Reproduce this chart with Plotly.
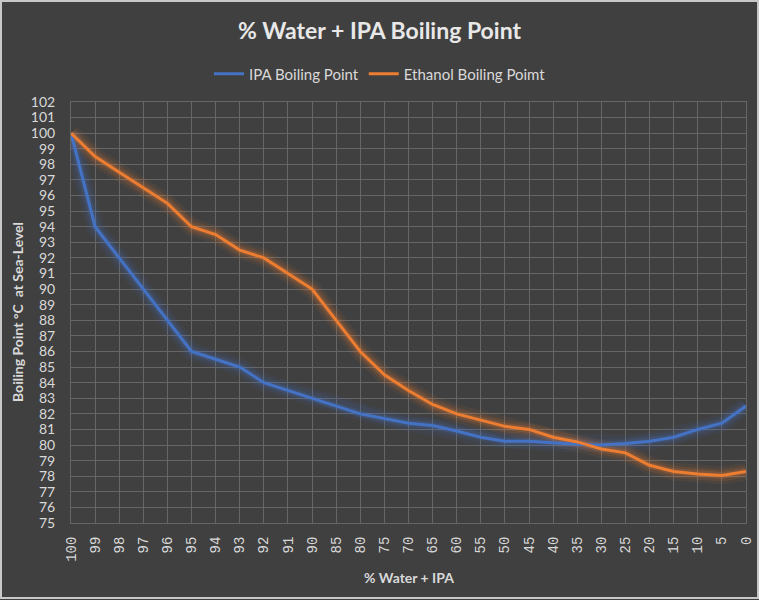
import plotly.graph_objects as go

categories = ["100", "99", "98", "97", "96", "95", "94", "93", "92", "91", "90",
              "85", "80", "75", "70", "65", "60", "55", "50", "45", "40", "35",
              "30", "25", "20", "15", "10", "5", "0"]
ipa_bp = [100, 94, 92, 90, 88, 86, 85.5, 85, 84, 83.5, 83,
          82.5, 82, 81.7, 81.4, 81.25, 80.9, 80.5, 80.25, 80.25, 80.15, 80.05,
          80.0, 80.1, 80.25, 80.5, 81.0, 81.4, 82.5]
ethanol_bp = [100, 98.5, 97.5, 96.5, 95.5, 94, 93.5, 92.5, 92, 91, 90,
              88, 86, 84.5, 83.5, 82.6, 82.0, 81.6, 81.2, 81.0, 80.5, 80.2,
              79.75, 79.5, 78.7, 78.3, 78.15, 78.05, 78.3]
y_ticks = list(range(75, 103))

BG = "#404040"
GRID = "#666666"
TXT = "#d9d9d9"
FONT = "Lato"

series = [
    ("IPA Boiling Point", ipa_bp, (68, 114, 196)),
    ("Ethanol Boiling Poimt", ethanol_bp, (237, 125, 49)),
]

fig = go.Figure()
# glow layers
for name, vals, (r, g, b) in series:
    for w, a in [(18, 0.07), (12, 0.12), (7, 0.2)]:
        fig.add_trace(go.Scatter(
            x=categories, y=vals, mode="lines",
            line=dict(color=f"rgba({r},{g},{b},{a})", width=w),
            showlegend=False, hoverinfo="skip"))
for name, vals, (r, g, b) in series:
    fig.add_trace(go.Scatter(
        x=categories, y=vals, mode="lines", name=name,
        line=dict(color=f"rgb({r},{g},{b})", width=3)))

fig.update_layout(
    width=759, height=600,
    paper_bgcolor=BG, plot_bgcolor=BG,
    margin=dict(l=71, r=13, t=102, b=77, autoexpand=False),
    font=dict(family=FONT, color=TXT, size=14),
    title=dict(text="<b>% Water + IPA Boiling Point</b>", x=0.5, xref="container",
               y=1 - 31 / 600, yanchor="middle", xanchor="center",
               font=dict(size=23, color="#e8e8e8", family=FONT)),
    legend=dict(orientation="h", x=(380 - 71) / 675, xanchor="center",
                y=(523 - 74) / 421, yanchor="middle",
                font=dict(size=15, color=TXT, family=FONT),
                bgcolor="rgba(0,0,0,0)"),
    showlegend=True,
)
fig.update_xaxes(type="category", range=[0, len(categories) - 1],
                 showgrid=True, gridcolor=GRID, gridwidth=1,
                 showline=True, linecolor=GRID, mirror=True,
                 tickangle=-90, ticks="", ticklabelstandoff=7,
                 tickfont=dict(family="Liberation Mono", size=14, color=TXT),
                 zeroline=False)
fig.update_yaxes(range=[75, 102], tickvals=y_ticks, ticktext=[str(v) for v in y_ticks],
                 showgrid=True, gridcolor=GRID, gridwidth=1,
                 showline=True, linecolor=GRID, mirror=True,
                 ticks="", ticklabelstandoff=12,
                 tickfont=dict(family=FONT, size=14, color=TXT),
                 zeroline=False)

fig.add_annotation(text="<b>Boiling Point °C  at Sea-Level</b>", textangle=-90,
                   xref="paper", yref="paper", x=(17 - 71) / 675, y=(523 - 312) / 421,
                   showarrow=False, font=dict(size=14, color=TXT, family=FONT),
                   xanchor="center", yanchor="middle")
fig.add_annotation(text="<b>% Water + IPA</b>",
                   xref="paper", yref="paper", x=0.5, y=(523 - 577) / 421,
                   showarrow=False, font=dict(size=14, color=TXT, family=FONT),
                   xanchor="center", yanchor="middle")
# outer light border
fig.add_shape(type="rect", xref="paper", yref="paper",
              x0=(1 - 71) / 675, x1=(758 - 71) / 675,
              y0=(523 - 598) / 421, y1=(523 - 1) / 421,
              line=dict(color="#c8c8c8", width=2), fillcolor="rgba(0,0,0,0)", layer="below")

fig.write_html("out.html", config={"displayModeBar": False},
               post_script="document.body.style.margin='0';document.body.style.background='#404040';")
